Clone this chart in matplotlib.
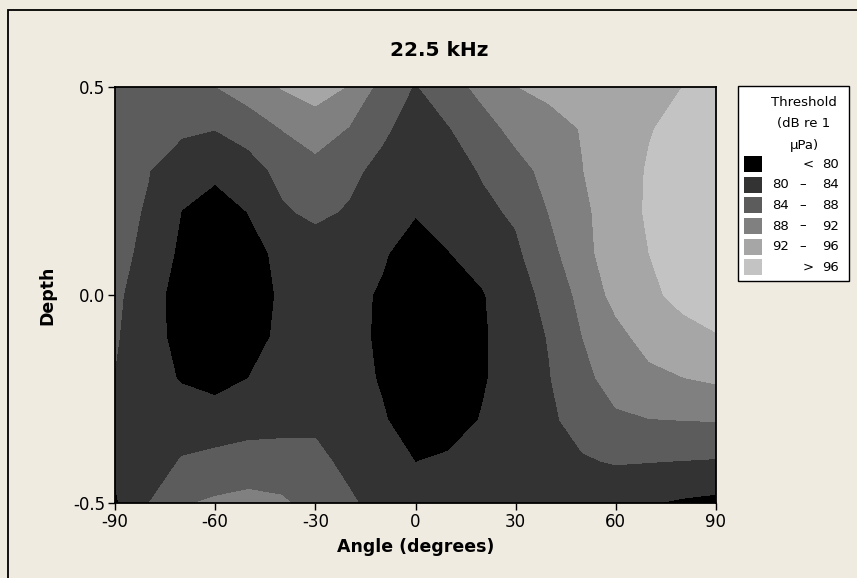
import numpy as np
import matplotlib.pyplot as plt
from matplotlib.patches import Rectangle

plt.rcParams['font.family'] = 'DejaVu Sans'
plt.rcParams['axes.unicode_minus'] = False

# grid of measured thresholds (dB re 1 uPa): rows = depth, cols = angle
angles = np.array([-90, -80, -70, -60, -50, -40, -30, -20, -10, 0,
                   10, 20, 30, 40, 50, 60, 70, 80, 90])
depths = np.array([0.5, 0.4, 0.3, 0.2, 0.1, 0.0, -0.1, -0.2, -0.3, -0.4, -0.5])
threshold = np.array([
    [86.0, 86.5, 87.3, 87.9, 90.1, 92.2, 93.5, 91.8, 86.5, 83.7, 86.5, 89.0, 91.9, 93.0, 94.0, 95.0, 95.8, 96.0, 97.0],
    [86.0, 85.5, 84.6, 84.1, 85.5, 88.1, 90.2, 87.8, 84.8, 82.0, 83.8, 86.6, 89.0, 90.5, 92.2, 94.0, 95.8, 97.0, 97.8],
    [85.5, 84.1, 82.0, 81.0, 82.5, 85.0, 86.5, 85.0, 82.8, 81.0, 82.5, 84.3, 86.8, 89.0, 91.9, 94.3, 96.3, 97.3, 98.0],
    [85.0, 83.7, 79.9, 78.0, 80.1, 83.5, 84.8, 83.6, 81.5, 80.3, 81.5, 83.2, 84.5, 88.1, 91.2, 94.0, 96.5, 97.5, 98.2],
    [84.8, 83.3, 79.0, 76.5, 78.8, 80.8, 82.0, 82.0, 80.5, 78.0, 79.9, 81.5, 83.3, 86.7, 90.7, 94.2, 96.0, 97.6, 98.3],
    [84.5, 82.5, 77.5, 76.0, 78.2, 80.5, 81.5, 81.2, 79.5, 76.5, 77.5, 79.7, 82.5, 85.0, 89.2, 93.2, 95.4, 96.8, 97.7],
    [84.3, 82.0, 78.3, 76.5, 78.5, 80.8, 81.8, 81.3, 79.3, 76.0, 77.0, 79.5, 82.0, 84.2, 88.0, 90.8, 93.5, 95.0, 95.8],
    [83.9, 82.0, 79.6, 78.3, 80.0, 81.8, 82.5, 82.0, 79.5, 76.5, 77.5, 79.6, 81.8, 83.8, 87.0, 89.5, 91.0, 91.9, 92.6],
    [82.5, 82.0, 82.5, 82.3, 82.5, 82.5, 83.2, 82.5, 80.5, 77.5, 78.5, 80.2, 81.8, 83.3, 85.5, 87.4, 87.9, 88.05, 88.2],
    [80.6, 82.5, 84.2, 84.8, 85.5, 85.8, 85.0, 83.0, 81.5, 79.95, 80.5, 81.0, 81.5, 82.3, 83.6, 84.3, 84.1, 83.9, 83.7],
    [79.5, 83.9, 87.6, 88.6, 89.2, 88.5, 86.5, 84.6, 82.5, 81.5, 81.5, 81.5, 81.5, 81.5, 81.0, 80.6, 80.2, 79.5, 79.0],
])

levels = [70, 80, 84, 88, 92, 96, 110]
shades = ['#000000', '#333333', '#5c5c5c', '#808080', '#a6a6a6', '#c3c3c3']
bg = '#efebe0'

W, H = 857, 578
fig = plt.figure(figsize=(W / 100, H / 100), dpi=100, facecolor=bg)
ax = fig.add_axes([115 / W, 75 / H, 601 / W, 416 / H])

ax.contourf(angles, depths, threshold, levels=levels, colors=shades)

ax.set_xlim(-90, 90)
ax.set_ylim(-0.5, 0.5)
ax.set_xticks([-90, -60, -30, 0, 30, 60, 90])
ax.set_yticks([-0.5, 0.0, 0.5])
ax.set_yticklabels(['-0.5', '0.0', '0.5'])
ax.tick_params(direction='out', length=5, width=1, labelsize=12, pad=2)
for s in ax.spines.values():
    s.set_linewidth(1.3)

ax.set_xlabel('Angle (degrees)', fontsize=12.5, fontweight='bold')
ax.xaxis.set_label_coords(0.5, -0.083)
ax.set_ylabel('Depth', fontsize=12.5, fontweight='bold')
ax.yaxis.set_label_coords(-0.097, 0.5)

fig.text(439 / W, 1 - 50 / H, '22.5 kHz', fontsize=14.5, fontweight='bold',
         ha='center', va='center')


def fx(px):
    return px / W


def fy(py):
    return 1 - py / H


# outer graph frame
fig.patches.append(Rectangle((fx(8), -0.2), 1.2, fy(10) + 0.2,
                             transform=fig.transFigure, fill=False,
                             edgecolor='black', lw=1.3))

# legend panel
fig.patches.append(Rectangle((fx(738), fy(281)), fx(849) - fx(738), fy(86) - fy(281),
                             transform=fig.transFigure, facecolor='white',
                             edgecolor='black', lw=1))
for i, t in enumerate(['Threshold', '(dB re 1', 'µPa)']):
    fig.text(fx(804), fy(102 + i * 21.5), t, fontsize=9.5, ha='center', va='center')

row_y = [164, 185, 205.5, 226, 246.5, 267]
for i, c in enumerate(shades):
    y = row_y[i]
    fig.patches.append(Rectangle((fx(744), fy(y + 8)), fx(18), 16 / H,
                                 transform=fig.transFigure, facecolor=c,
                                 edgecolor='none'))
    if i == 0:
        fig.text(fx(808), fy(y), '<', fontsize=9.5, ha='center', va='center')
        fig.text(fx(839), fy(y), str(levels[1]), fontsize=9.5, ha='right', va='center')
    elif i == len(shades) - 1:
        fig.text(fx(808), fy(y), '>', fontsize=9.5, ha='center', va='center')
        fig.text(fx(839), fy(y), str(levels[-2]), fontsize=9.5, ha='right', va='center')
    else:
        fig.text(fx(772), fy(y), str(levels[i]), fontsize=9.5, ha='left', va='center')
        fig.text(fx(803), fy(y), '–', fontsize=9.5, ha='center', va='center')
        fig.text(fx(839), fy(y), str(levels[i + 1]), fontsize=9.5, ha='right', va='center')

fig.savefig('out.png', dpi=100, facecolor=bg)
